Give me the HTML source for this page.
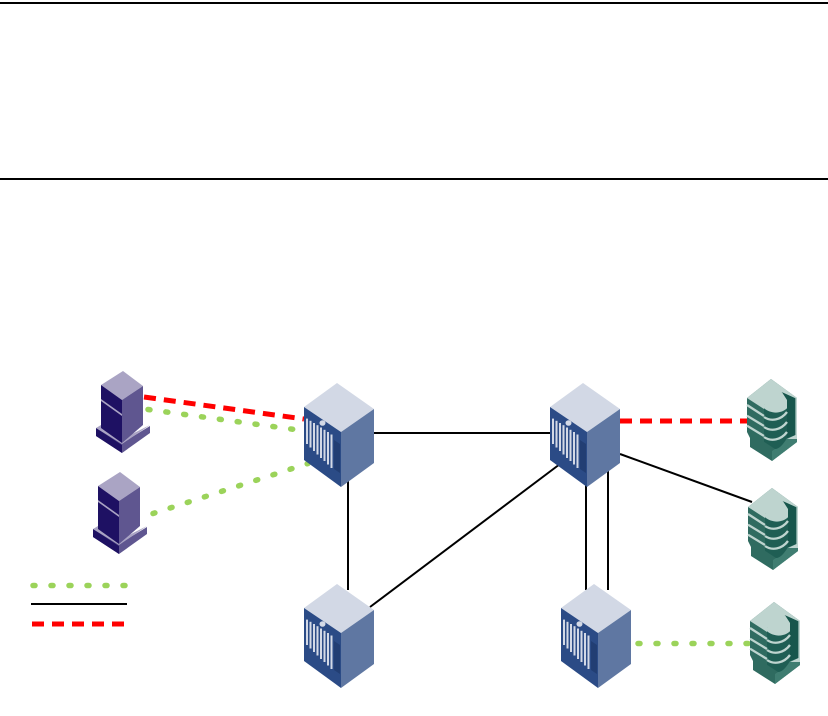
<!DOCTYPE html>
<html><head><meta charset="utf-8"><style>
html,body{margin:0;padding:0;background:#fff;width:828px;height:716px;overflow:hidden}
svg{display:block}
</style></head><body>
<svg width="828" height="716" viewBox="0 0 828 716" xmlns="http://www.w3.org/2000/svg">
<defs>
<g id="srv">
<polygon points="33,0 70,26 37,49 0,24" fill="#d2d8e5"/>
<polygon points="0,24 37,49 37,104 0,77" fill="#2b4b86"/>
<polygon points="37,49 70,26 70,80 37,104" fill="#5f77a2"/>
<g stroke="#d3d9e6" stroke-width="2">
<line x1="3" y1="35.600" x2="3" y2="61"/><line x1="6.500" y1="37.800" x2="6.500" y2="64.500"/><line x1="10" y1="40" x2="10" y2="68"/>
<line x1="13.500" y1="42.200" x2="13.500" y2="71.500"/><line x1="17" y1="44.500" x2="17" y2="75"/><line x1="20.500" y1="46.800" x2="20.500" y2="78"/>
<line x1="24" y1="49" x2="24" y2="81.500"/><line x1="27.500" y1="51.500" x2="27.500" y2="85"/>
</g>
<ellipse cx="18.500" cy="40" rx="3" ry="2.800" fill="#d3d9e6"/>
<polygon points="30,57 36,61 36,90 30,86" fill="#223e73"/>
</g>
<g id="twr">
<polygon points="0,57 26,72 54,55 54,62 26,82 0,65" fill="#5f5690"/>
<polygon points="0,57 26,74 26,82 0,65" fill="#1e1163"/>
<polygon points="0,57 5,54 26,68 54,54 26,73" fill="#aaa4c4"/>
<polygon points="27,0 47,15 26,29 5,14" fill="#aaa4c4"/>
<polygon points="5,14 26,29 26,72 5,57" fill="#1e1163"/>
<polygon points="26,29 47,15 47,54 26,72" fill="#5f5690"/>
<polygon points="5,28 26,43 26,45 5,30" fill="#aaa4c4"/>
</g>
<g id="db">
<polygon points="24,0 50,19 50,63 25,82 3,68 3,59 0,53 0,19" fill="#2f6b60"/>
<polygon points="25,82 50,63 50,56 40,59 28,70 25,72" fill="#3f7d71"/>
<polygon points="24,0 50,19 50,60 40,60 48.300,56 48.300,19.300 35,13.300 17,26 17,30 0,19" fill="#bed4cf"/>
<polygon points="35,13.300 48.300,19.300 48.300,56 40,59.300 40,21" fill="#17564c"/>
<path d="M17,29 L40,29 L40,59 C36,66 32,70 28,70 L17,62.700 Z" fill="#1f5e54"/>
<path d="M17,26 C22,20 30,16 35,13.300 L40,21 L40,29.300 C34,35 24,35 17,29.300 Z" fill="#bed4cf"/>
<g fill="none" stroke="#bed4cf" stroke-width="2.300">
<path d="M17,38 C24,43 34,41 40,33"/><path d="M17,48 C24,53 34,51 40,43"/><path d="M17,58 C24,63 34,61 40,53"/>
<path d="M0,26 L17,37"/><path d="M0,36.700 L17,47"/><path d="M0,46.700 L17,57"/>
</g>
</g>
</defs>
<rect x="0" y="2" width="828" height="2" fill="#000"/>
<rect x="0" y="178" width="828" height="2" fill="#000"/>
<g stroke="#000" stroke-width="2" fill="none">
<line x1="374" y1="433" x2="550" y2="433"/>
<line x1="348" y1="480" x2="348" y2="590"/>
<line x1="370" y1="607" x2="560" y2="464"/>
<line x1="586" y1="480" x2="586" y2="590"/>
<line x1="608" y1="470" x2="608" y2="590"/>
<line x1="620" y1="454" x2="752" y2="502"/>
<line x1="31" y1="604" x2="127" y2="604"/>
</g>
<g stroke="#ff0000" stroke-width="5" fill="none" stroke-dasharray="12 8">
<line x1="144" y1="397" x2="304" y2="419"/>
<line x1="620" y1="421" x2="747" y2="421"/>
<line x1="32" y1="624" x2="128" y2="624"/>
</g>
<g stroke="#9bd35a" stroke-width="5.500" fill="none" stroke-linecap="round" stroke-dasharray="2 16">
<line x1="148" y1="409.500" x2="302" y2="430.500"/>
<line x1="153" y1="513.500" x2="308" y2="463.500"/>
<line x1="638" y1="643.500" x2="750" y2="643.500"/>
<line x1="33" y1="585.500" x2="125" y2="585.500"/>
</g>
<use href="#twr" x="96" y="371"/>
<use href="#twr" x="93" y="472"/>
<use href="#srv" x="304" y="383"/>
<use href="#srv" x="550" y="383"/>
<use href="#srv" x="304" y="584"/>
<use href="#srv" x="561" y="584"/>
<use href="#db" x="747" y="379"/>
<use href="#db" x="748" y="488"/>
<use href="#db" x="750" y="602"/>
</svg>
</body></html>
